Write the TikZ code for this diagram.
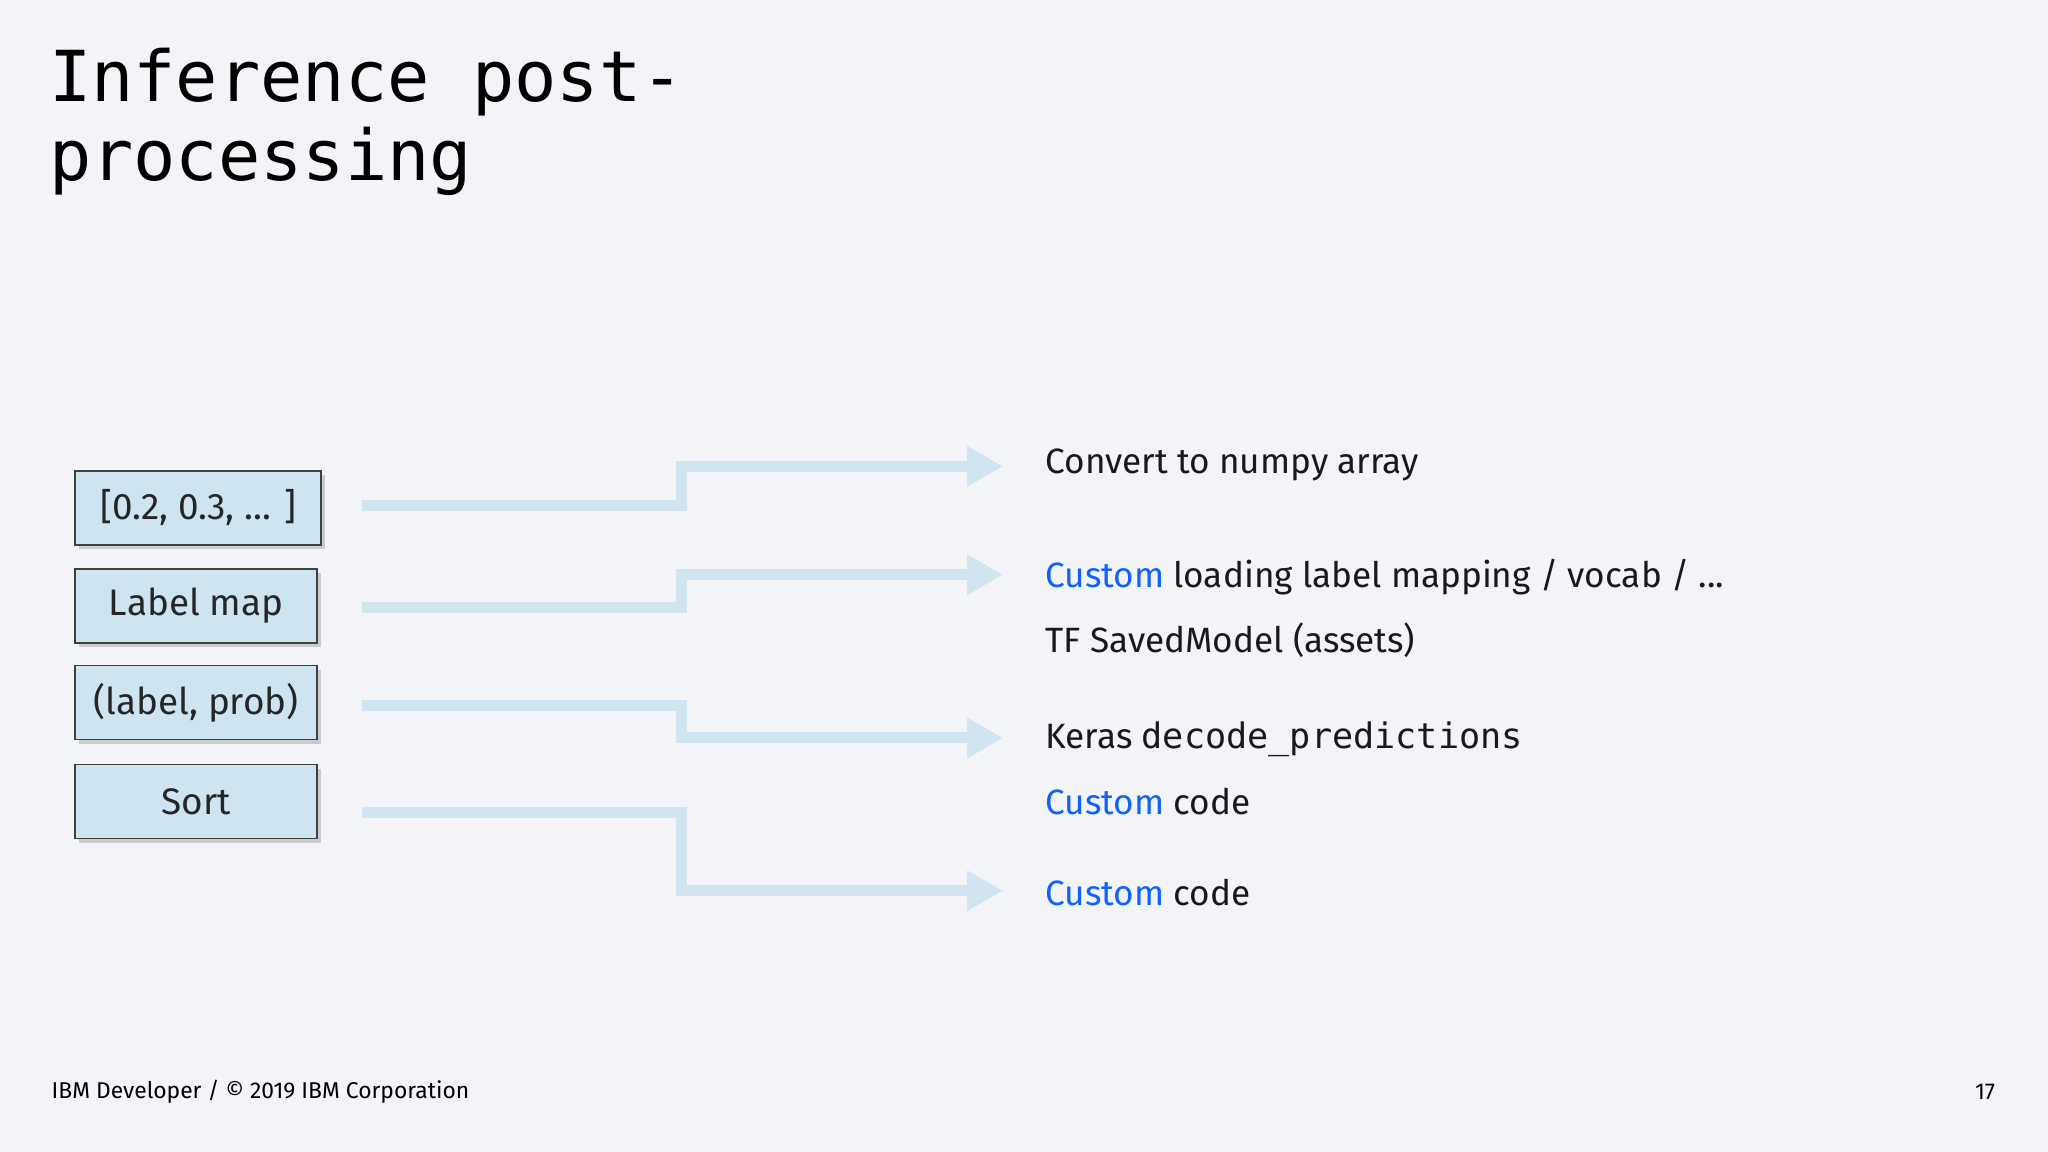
\documentclass[tikz,border=0pt]{standalone}
\usepackage{fontspec}
\setmainfont{Fira Sans}
\setmonofont{DejaVu Sans Mono}
\usetikzlibrary{arrows.meta,shadows}
\definecolor{bg}{RGB}{242,244,248}
\definecolor{boxfill}{RGB}{206,229,241}
\definecolor{flow}{RGB}{208,229,240}
\definecolor{ibmblue}{RGB}{15,98,254}
\tikzset{
  stagebox/.style={draw=black!75,fill=boxfill,minimum height=0.74cm,anchor=north west,font=\fontsize{10.5}{12}\selectfont,text=black!85,drop shadow={opacity=0.35,shadow xshift=0.04cm,shadow yshift=-0.04cm}},
  flowline/.style={draw=flow,line width=0.11cm,-{Triangle[length=0.36cm,width=0.38cm]}},
  note/.style={anchor=west,font=\fontsize{10}{12}\selectfont,text=black!90,inner sep=0pt}
}
\newcommand{\cust}{\textcolor{ibmblue}{Custom}}
\begin{document}
\begin{tikzpicture}[x=0.013061cm,y=-0.013061cm]
\fill[bg] (0,0) rectangle (1568,882);

% title
\node[anchor=north west,align=left,inner sep=0pt,font=\ttfamily\fontsize{20}{22.5}\selectfont] (title) at (37,36) {Inference post-\\processing};

% stages
\node[stagebox,minimum width=2.46cm] (vec) at (57,360) {[0.2, 0.3, ... ]};
\node[stagebox,minimum width=2.42cm] (lmap) at (57,435) {Label map};
\node[stagebox,minimum width=2.42cm] (pair) at (57,509) {(label, prob)};
\node[stagebox,minimum width=2.42cm] (sort) at (57,585) {Sort};

% targets
\node[note] (numpy) at (800,356) {Convert to numpy array};
\node[note] (vocab) at (800,442) {\cust{} loading label mapping / vocab / ...};
\node[note] (assets) at (800,490) {TF SavedModel (assets)};
\node[note] (keras) at (800,566) {Keras \texttt{decode\_predictions}};
\node[note] (code1) at (800,614) {\cust{} code};
\node[note] (code2) at (800,683) {\cust{} code};

% flows
\coordinate (s1) at (277,387); \coordinate (e1) at (768,357);
\coordinate (s2) at (277,465); \coordinate (e2) at (768,440);
\coordinate (s3) at (277,540); \coordinate (e3) at (768,565);
\coordinate (s4) at (277,622); \coordinate (e4) at (768,682);
\foreach \i in {1,2,3,4}
  \draw[flowline] (s\i) -- (522,0 |- s\i) -- (522,0 |- e\i) -- (e\i);

% footer
\node[anchor=west,inner sep=0pt,font=\fontsize{6.5}{8}\selectfont] (foot) at (39,836) {IBM Developer / © 2019 IBM Corporation};
\node[anchor=east,inner sep=0pt,font=\fontsize{6.5}{8}\selectfont] (page) at (1528,836) {17};
\end{tikzpicture}
\end{document}
